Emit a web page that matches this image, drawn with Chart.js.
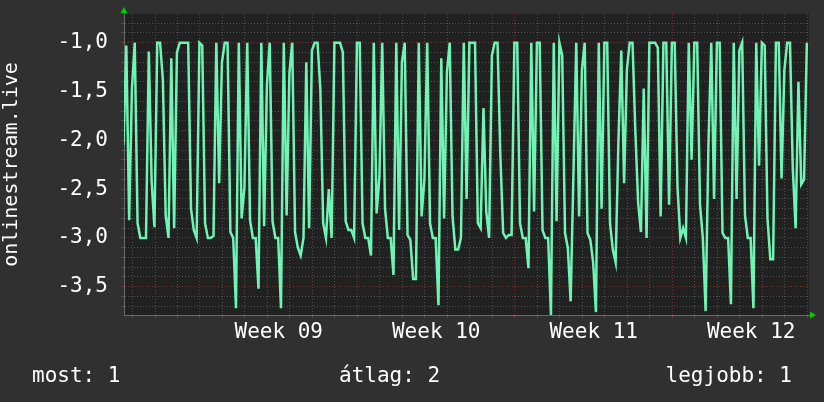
<!DOCTYPE html>
<html>
<head>
<meta charset="utf-8">
<script src="https://cdn.jsdelivr.net/npm/chart.js@4.4.0/dist/chart.umd.min.js"></script>
<style>
  html, body { margin: 0; padding: 0; background: #303030; }
  #wrap { width: 824px; height: 402px; }
</style>
</head>
<body>
<div id="wrap"><canvas id="graph" width="824" height="402"></canvas></div>
<script>
// samples every 3 hours, day 0 = start of Week 09
const startDay = -3.4;
const stepDays = 0.125;
const streamValues = [
  -2.05, -1.03, -2.82, -1.47, -1.0, -2.85, -3.0, -3.0, -3.0, -1.09,
  -2.42, -2.89, -1.0, -1.0, -1.38, -2.77, -3.0, -1.16, -2.9, -1.1,
  -1.0, -1.0, -1.0, -1.0, -2.7, -2.92, -3.0, -1.0, -1.03, -2.85,
  -3.0, -3.0, -2.98, -1.0, -2.44, -1.2, -1.0, -1.0, -2.94, -3.0,
  -3.72, -1.0, -2.8, -2.48, -1.0, -2.82, -3.0, -3.0, -3.52, -1.0,
  -2.88, -1.43, -1.0, -2.83, -3.0, -3.0, -3.72, -1.0, -2.77, -1.31,
  -1.0, -2.94, -3.1, -3.18, -3.0, -1.2, -2.9, -1.08, -1.0, -1.0,
  -1.48, -2.85, -3.0, -2.5, -3.0, -1.0, -1.0, -1.0, -1.1, -2.83,
  -2.92, -2.92, -3.0, -1.0, -1.0, -2.85, -3.0, -3.0, -3.18, -1.0,
  -2.75, -2.37, -1.0, -2.7, -3.0, -3.0, -3.38, -1.0, -2.92, -1.2,
  -1.0, -2.97, -3.02, -3.42, -3.42, -1.0, -2.78, -2.4, -1.0, -2.85,
  -3.0, -3.0, -3.69, -1.16, -2.8, -1.3, -1.0, -2.78, -3.12, -3.12,
  -3.0, -1.0, -2.6, -1.0, -1.0, -1.0, -2.85, -2.9, -1.67, -2.73,
  -3.0, -1.13, -1.0, -1.0, -2.15, -2.95, -3.0, -2.97, -2.97, -1.0,
  -1.0, -2.85, -3.0, -3.0, -3.31, -1.0, -2.73, -1.0, -1.0, -2.92,
  -3.0, -3.0, -3.79, -1.0, -2.83, -1.0, -1.13, -2.95, -3.1, -3.65,
  -2.34, -1.0, -2.78, -1.28, -1.0, -2.95, -3.02, -3.25, -3.76, -1.0,
  -2.7, -1.0, -1.0, -2.85, -3.12, -3.25, -2.0, -1.08, -2.44, -1.28,
  -1.0, -1.0, -1.9, -2.64, -2.94, -1.47, -3.0, -1.0, -1.0, -1.0,
  -1.05, -2.78, -1.0, -1.0, -2.66, -1.0, -1.0, -2.48, -3.0, -2.9,
  -3.0, -1.0, -2.2, -1.0, -1.0, -2.66, -3.0, -3.75, -2.05, -1.0,
  -2.6, -1.0, -1.0, -2.95, -3.0, -3.0, -3.68, -1.0, -2.6, -1.08,
  -1.0, -2.77, -3.0, -3.0, -3.72, -1.0, -2.26, -1.0, -1.03, -2.8,
  -3.22, -3.22, -1.0, -1.0, -2.39, -1.28, -1.0, -1.0, -2.29, -2.9,
  -1.4, -2.45, -2.4, -1.0
];

const weekStarts = [0, 7, 14, 21];
const weekLabels = ['Week 09', 'Week 10', 'Week 11', 'Week 12'];
const yLabelValues = [-3.5, -3.0, -2.5, -2.0, -1.5, -1.0];
const legendItems = ['most: 1', 'átlag: 2', 'legjobb: 1'];

const xMin = -3.378, xMax = 27.07;
const yMin = -3.79, yMax = -0.706;

const points = streamValues.map((v, i) => ({ x: startDay + i * stepDays, y: v }));

const FONT = 'DejaVu Sans Mono';
const minorGrid = '#505050';
const majorGrid = '#7a3434';
const hidden = 'rgba(0,0,0,0)';

const isLabelVal = v => yLabelValues.some(l => Math.abs(l - v) < 1e-6);
const isWeekStart = v => weekStarts.some(w => Math.abs(w - v) < 1e-6);

const backdrop = {
    id: 'backdrop',
    beforeDraw(chart) {
        const { ctx, chartArea: a } = chart;
        ctx.save();
        ctx.fillStyle = '#303030';
        ctx.fillRect(0, 0, chart.width, chart.height);
        ctx.fillStyle = '#212121';
        ctx.fillRect(a.left, a.top, a.right - a.left, a.bottom - a.top);
        ctx.restore();
    },
    afterDraw(chart) {
        const { ctx, chartArea: a } = chart;
        ctx.save();
        // axis arrows
        ctx.fillStyle = '#00cc00';
        ctx.beginPath();
        ctx.moveTo(a.left - 3.5, a.top - 1);
        ctx.lineTo(a.left + 3.5, a.top - 1);
        ctx.lineTo(a.left, a.top - 7);
        ctx.closePath();
        ctx.fill();
        ctx.beginPath();
        ctx.moveTo(a.right + 1, a.bottom - 3.5);
        ctx.lineTo(a.right + 1, a.bottom + 3.5);
        ctx.lineTo(a.right + 7, a.bottom);
        ctx.closePath();
        ctx.fill();

        // legend row
        ctx.fillStyle = '#ffffff';
        ctx.font = '21px "' + FONT + '"';
        ctx.textBaseline = 'alphabetic';
        ctx.textAlign = 'left';
        ctx.fillText(legendItems[0], 32, 382);
        ctx.fillText(legendItems[1], 339, 382);
        ctx.textAlign = 'right';
        ctx.fillText(legendItems[2], 792, 382);
        ctx.restore();
    }
};

new Chart(document.getElementById('graph'), {
    type: 'line',
    data: {
        datasets: [{
            label: 'onlinestream.live',
            data: points,
            borderColor: '#70f4b4',
            borderWidth: 2.5,
            pointRadius: 0,
            tension: 0,
            fill: false
        }]
    },
    options: {
        responsive: false,
        animation: false,
        layout: { padding: { top: 14, right: 15, left: 0, bottom: 0 } },
        plugins: {
            legend: { display: false },
            tooltip: { enabled: false }
        },
        scales: {
            x: {
                type: 'linear',
                min: xMin,
                max: xMax,
                afterBuildTicks(scale) {
                    const ticks = [];
                    for (let d = Math.ceil(xMin); d <= xMax; d++) ticks.push({ value: d });
                    weekStarts.forEach(w => ticks.push({ value: w + 3.5 }));
                    ticks.sort((p, q) => p.value - q.value);
                    scale.ticks = ticks;
                },
                afterFit(scale) {
                    scale.height = 87;
                    scale.paddingLeft = 0;
                    scale.paddingRight = 0;
                },
                grid: {
                    color: c => !Number.isInteger(c.tick.value) ? hidden : (isWeekStart(c.tick.value) ? majorGrid : minorGrid),
                    tickColor: c => !Number.isInteger(c.tick.value) ? hidden : (isWeekStart(c.tick.value) ? majorGrid : minorGrid),
                    lineWidth: 1,
                    drawTicks: true,
                    tickLength: 3
                },
                border: { display: true, color: '#6a6a6a', width: 1, dash: [1, 2] },
                ticks: {
                    autoSkip: false,
                    maxRotation: 0,
                    padding: 2,
                    color: '#ffffff',
                    font: { family: FONT, size: 21 },
                    callback: v => {
                        const k = weekStarts.findIndex(w => Math.abs(w + 3.5 - v) < 1e-6);
                        return k >= 0 ? weekLabels[k] : '';
                    }
                }
            },
            y: {
                type: 'linear',
                min: yMin,
                max: yMax,
                afterBuildTicks(scale) {
                    const ticks = [];
                    for (let k = -37; k <= -8; k++) ticks.push({ value: k / 10 });
                    scale.ticks = ticks;
                },
                afterFit(scale) {
                    scale.width = 124;
                    scale.paddingTop = 0;
                    scale.paddingBottom = 0;
                },
                grid: {
                    color: c => isLabelVal(c.tick.value) ? majorGrid : minorGrid,
                    tickColor: c => isLabelVal(c.tick.value) ? majorGrid : minorGrid,
                    lineWidth: 1,
                    drawTicks: true,
                    tickLength: 3
                },
                border: { display: true, color: '#6a6a6a', width: 1, dash: [1, 2] },
                ticks: {
                    autoSkip: false,
                    padding: 13,
                    color: '#ffffff',
                    font: { family: FONT, size: 21 },
                    callback: v => isLabelVal(v) ? v.toFixed(1).replace('.', ',') : ''
                },
                title: {
                    display: true,
                    text: 'onlinestream.live',
                    color: '#ffffff',
                    font: { family: FONT, size: 20 },
                    padding: 0
                }
            }
        }
    },
    plugins: [backdrop]
});
</script>
</body>
</html>
